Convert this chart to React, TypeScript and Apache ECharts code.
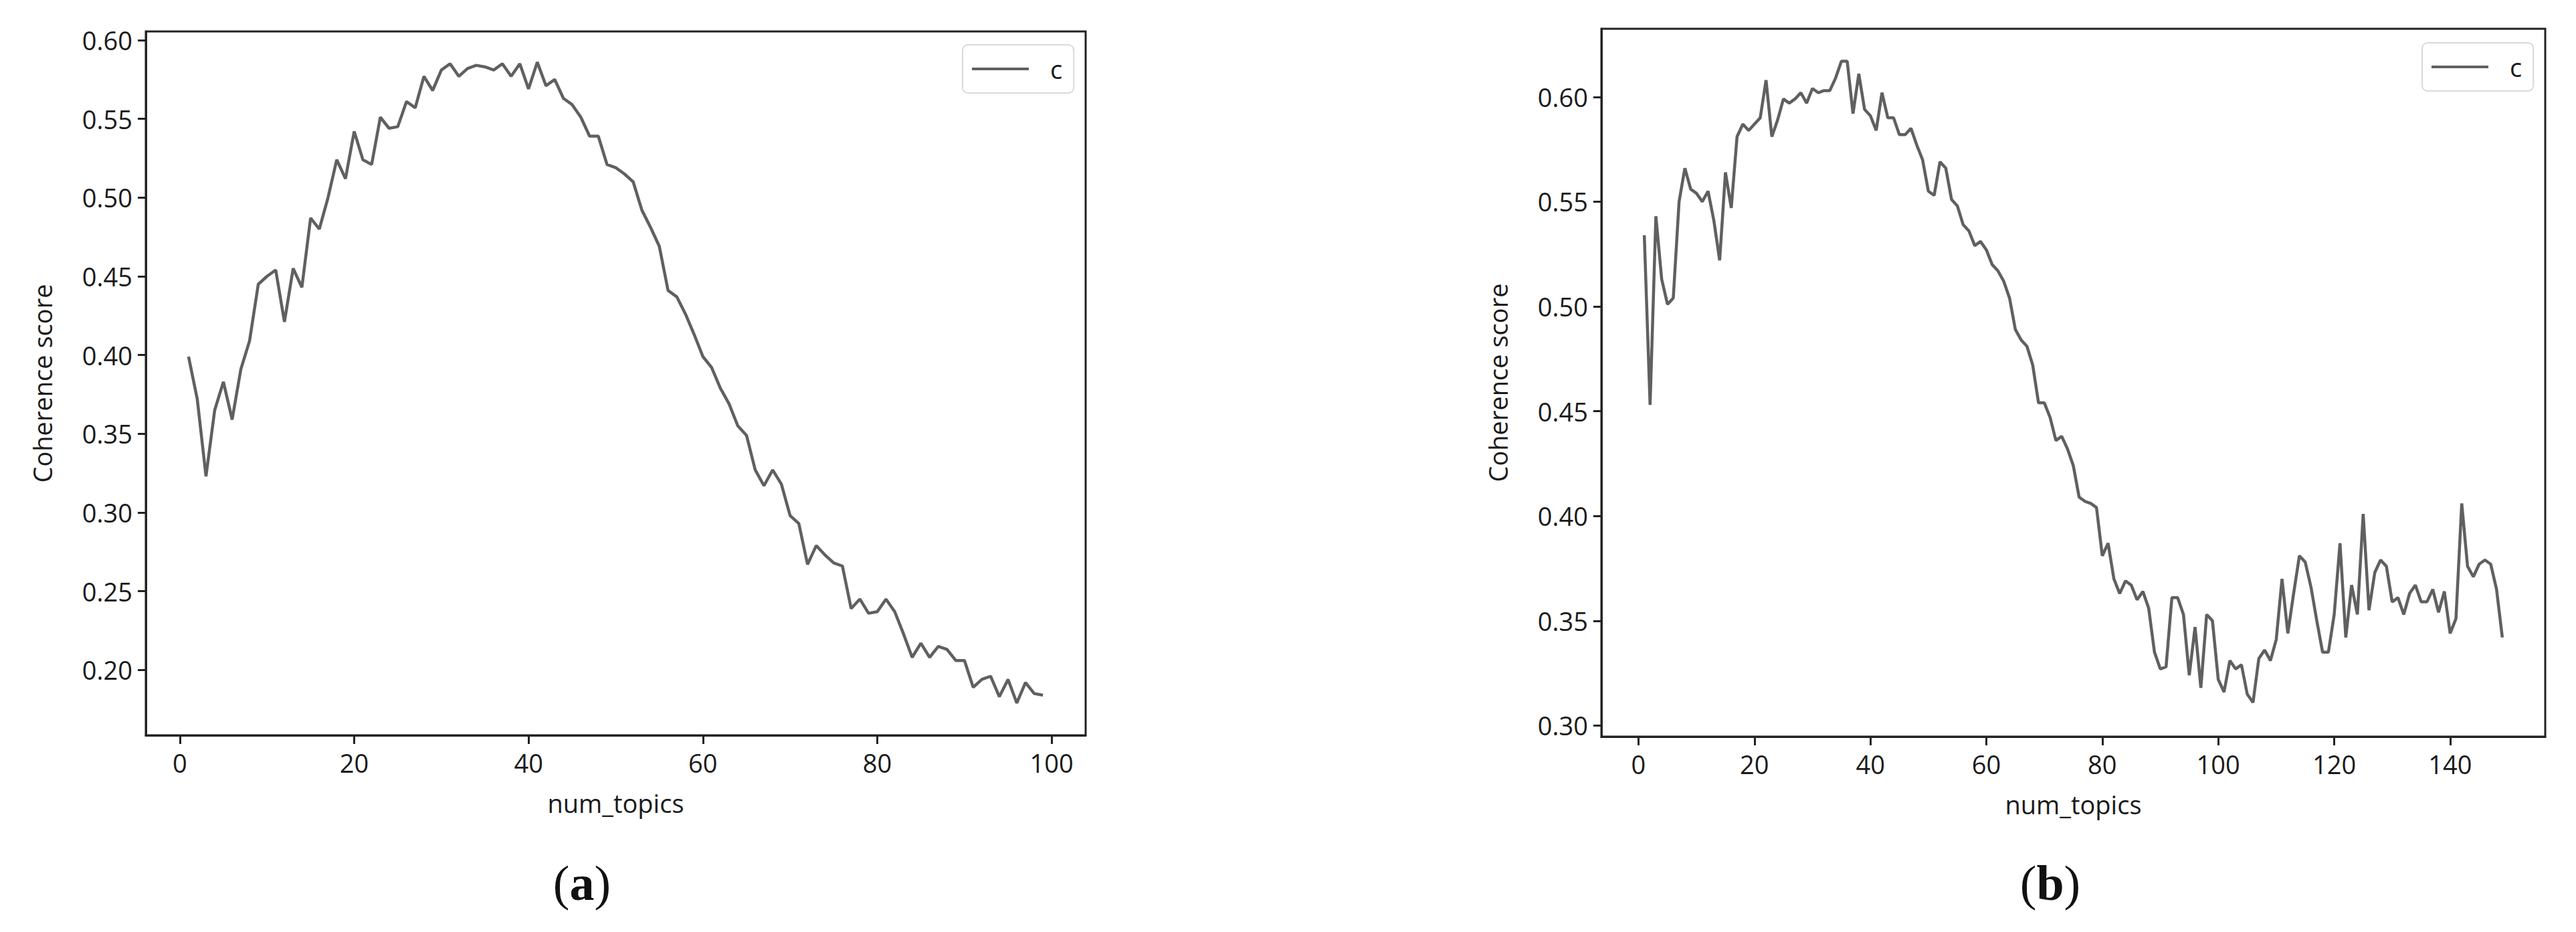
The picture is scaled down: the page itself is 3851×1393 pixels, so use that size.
import React, { useEffect, useRef } from "react";
import * as echarts from "echarts";

// ---- data ----
const coherenceA: number[] = [
  0.399, 0.372, 0.323, 0.365, 0.383, 0.359, 0.391, 0.409, 0.445, 0.450,
  0.454, 0.421, 0.455, 0.443, 0.487, 0.480, 0.500, 0.524, 0.512, 0.542,
  0.524, 0.521, 0.551, 0.544, 0.545, 0.561, 0.557, 0.577, 0.568, 0.581,
  0.585, 0.577, 0.582, 0.584, 0.583, 0.581, 0.585, 0.577, 0.585, 0.569,
  0.586, 0.571, 0.575, 0.563, 0.559, 0.551, 0.539, 0.539, 0.521, 0.519,
  0.515, 0.510, 0.492, 0.481, 0.469, 0.441, 0.437, 0.426, 0.413, 0.399,
  0.392, 0.379, 0.369, 0.355, 0.349, 0.327, 0.317, 0.327, 0.318, 0.298,
  0.293, 0.267, 0.279, 0.273, 0.268, 0.266, 0.239, 0.245, 0.236, 0.237,
  0.245, 0.237, 0.223, 0.208, 0.217, 0.208, 0.215, 0.213, 0.206, 0.206,
  0.189, 0.194, 0.196, 0.183, 0.194, 0.179, 0.192, 0.185, 0.184,
];
const topicsA: number[] = coherenceA.map((_, i) => i + 1);

const coherenceB: number[] = [
  0.534, 0.453, 0.543, 0.513, 0.501, 0.504, 0.550, 0.566, 0.556, 0.554,
  0.550, 0.555, 0.541, 0.522, 0.564, 0.547, 0.581, 0.587, 0.584, 0.587,
  0.590, 0.608, 0.581, 0.589, 0.599, 0.597, 0.599, 0.602, 0.597, 0.604,
  0.602, 0.603, 0.603, 0.609, 0.617, 0.617, 0.592, 0.611, 0.594, 0.591,
  0.584, 0.602, 0.590, 0.590, 0.582, 0.582, 0.585, 0.577, 0.570, 0.555,
  0.553, 0.569, 0.566, 0.551, 0.548, 0.539, 0.536, 0.529, 0.531, 0.527,
  0.520, 0.517, 0.512, 0.504, 0.489, 0.484, 0.481, 0.472, 0.454, 0.454,
  0.447, 0.436, 0.438, 0.432, 0.424, 0.409, 0.407, 0.406, 0.404, 0.381,
  0.387, 0.370, 0.363, 0.369, 0.367, 0.360, 0.364, 0.356, 0.335, 0.327,
  0.328, 0.361, 0.361, 0.353, 0.324, 0.347, 0.318, 0.353, 0.350, 0.322,
  0.316, 0.331, 0.327, 0.329, 0.315, 0.311, 0.332, 0.336, 0.331, 0.341,
  0.370, 0.344, 0.363, 0.381, 0.378, 0.366, 0.350, 0.335, 0.335, 0.353,
  0.387, 0.342, 0.367, 0.353, 0.401, 0.355, 0.373, 0.379, 0.376, 0.359,
  0.361, 0.353, 0.363, 0.367, 0.359, 0.359, 0.365, 0.354, 0.364, 0.344,
  0.351, 0.406, 0.376, 0.371, 0.377, 0.379, 0.377, 0.365, 0.342,
];
const topicsB: number[] = coherenceB.map((_, i) => i + 1);

const xTicksA: number[] = [0, 20, 40, 60, 80, 100];
const yTicksA: number[] = [0.2, 0.25, 0.3, 0.35, 0.4, 0.45, 0.5, 0.55, 0.6];
const xTicksB: number[] = [0, 20, 40, 60, 80, 100, 120, 140];
const yTicksB: number[] = [0.3, 0.35, 0.4, 0.45, 0.5, 0.55, 0.6];

const seriesName = "c";
const xTitle = "num_topics";
const yTitle = "Coherence score";
const captions = ["a", "b"];

const FONT = "Open Sans";
const TEXT = "#1a1a1a";
const AXIS = "#222222";
const LINE = "#606060";

function makeXAxis(gridIndex: number, min: number, max: number, ticks: number[]) {
  return {
    type: "value",
    gridIndex,
    min,
    max,
    name: xTitle,
    nameLocation: "middle",
    nameGap: 82,
    nameTextStyle: { fontFamily: FONT, fontSize: 38, color: TEXT },
    axisLine: { show: true, onZero: false, lineStyle: { color: AXIS, width: 3 } },
    axisTick: { show: true, length: 13, customValues: ticks, lineStyle: { color: AXIS, width: 3 } },
    axisLabel: {
      customValues: ticks,
      fontFamily: FONT,
      fontSize: 38,
      color: TEXT,
      margin: 22,
      formatter: (v: number) => String(Math.round(v)),
    },
    splitLine: { show: false },
  };
}

function makeYAxis(gridIndex: number, min: number, max: number, ticks: number[]) {
  return {
    type: "value",
    gridIndex,
    min,
    max,
    name: yTitle,
    nameLocation: "middle",
    nameGap: 136,
    nameTextStyle: { fontFamily: FONT, fontSize: 38, color: TEXT },
    axisLine: { show: true, onZero: false, lineStyle: { color: AXIS, width: 3 } },
    axisTick: { show: true, length: 12, customValues: ticks, lineStyle: { color: AXIS, width: 3 } },
    axisLabel: {
      customValues: ticks,
      fontFamily: FONT,
      fontSize: 38,
      color: TEXT,
      margin: 20,
      formatter: (v: number) => v.toFixed(2),
    },
    splitLine: { show: false },
  };
}

function makeLegend(left: number, top: number) {
  return {
    left,
    top,
    data: [seriesName],
    icon: "rect",
    itemWidth: 85,
    itemHeight: 4,
    padding: [17, 17, 17, 14],
    borderColor: "#d9d9d9",
    borderWidth: 2,
    borderRadius: 8,
    backgroundColor: "#ffffff",
    selectedMode: false,
    textStyle: { fontFamily: FONT, fontSize: 38, color: TEXT, padding: [0, 0, 0, 27] },
  };
}

function caption(letter: string, x: number, y: number) {
  return {
    type: "text",
    x,
    y,
    style: {
      text: `{p|(}{b|${letter}}{p|)}`,
      align: "center",
      verticalAlign: "middle",
      rich: {
        p: { fontFamily: "Liberation Serif", fontSize: 74, fill: "#111" },
        b: { fontFamily: "Liberation Serif", fontSize: 74, fontWeight: "bold", fill: "#111" },
      },
    },
  };
}

export default function App() {
  const ref = useRef<HTMLDivElement>(null);
  useEffect(() => {
    if (!ref.current) return;
    const chart = echarts.init(ref.current, null, { renderer: "svg" });
    const option: any = {
      animation: false,
      backgroundColor: "#ffffff",
      grid: [
        { left: 218, top: 47, width: 1405, height: 1052, show: true, borderColor: AXIS, borderWidth: 3, backgroundColor: "transparent" },
        { left: 2394, top: 43, width: 1411, height: 1058, show: true, borderColor: AXIS, borderWidth: 3, backgroundColor: "transparent" },
      ],
      xAxis: [makeXAxis(0, -3.9, 103.9, xTicksA), makeXAxis(1, -6.4, 156.4, xTicksB)],
      yAxis: [makeYAxis(0, 0.1585, 0.6055, yTicksA), makeYAxis(1, 0.2947, 0.6325, yTicksB)],
      legend: [makeLegend(1439, 67), makeLegend(3621, 64)],
      series: [
        {
          name: seriesName,
          type: "line",
          xAxisIndex: 0,
          yAxisIndex: 0,
          data: topicsA.map((t, i) => [t, coherenceA[i]]),
          symbol: "none",
          color: LINE,
          lineStyle: { color: LINE, width: 4.5 },
        },
        {
          name: seriesName,
          type: "line",
          xAxisIndex: 1,
          yAxisIndex: 1,
          data: topicsB.map((t, i) => [t, coherenceB[i]]),
          symbol: "none",
          color: LINE,
          lineStyle: { color: LINE, width: 4.5 },
        },
      ],
      graphic: [caption(captions[0], 870, 1320), caption(captions[1], 3065, 1320)],
    };
    chart.setOption(option);
    return () => chart.dispose();
  }, []);
  return (
    <div
      ref={ref}
      style={{ position: "absolute", left: 0, top: 0, width: 3851, height: 1393, background: "#fff" }}
    />
  );
}
